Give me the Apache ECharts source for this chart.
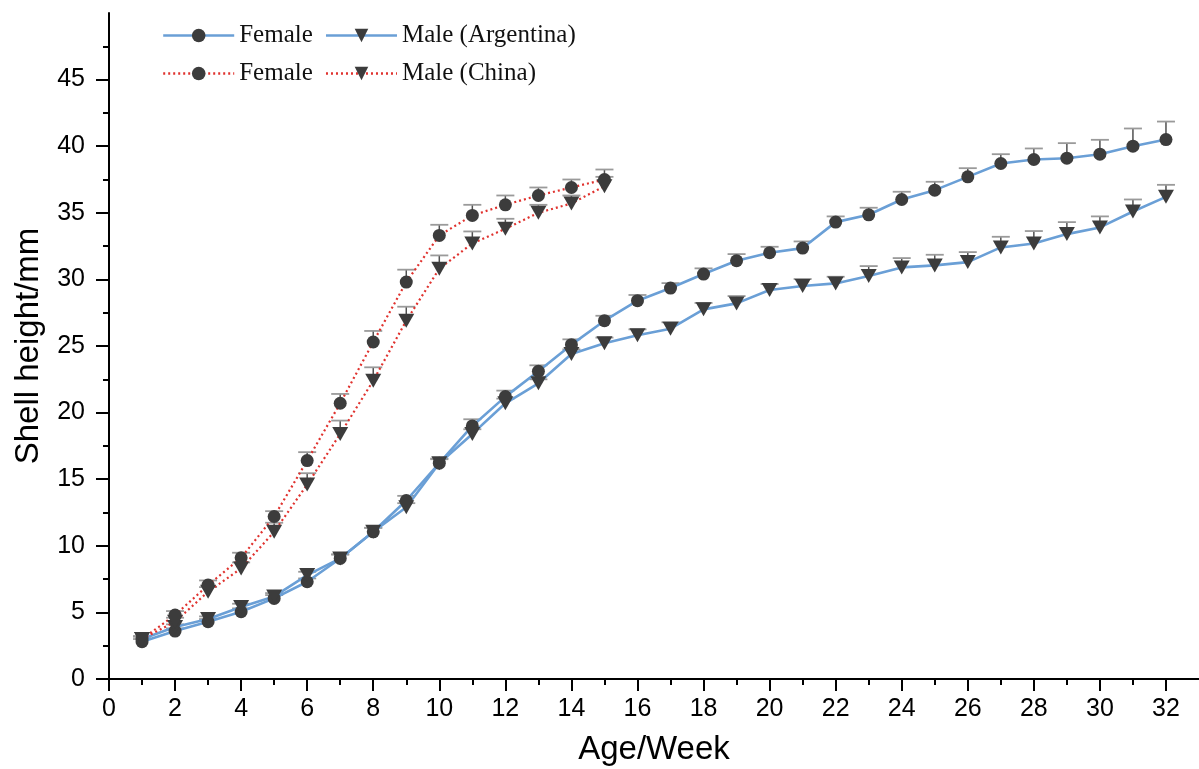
<!DOCTYPE html>
<html>
<head>
<meta charset="utf-8">
<script src="https://cdn.jsdelivr.net/npm/echarts@6/dist/echarts.min.js"></script>
<style>html,body{margin:0;padding:0;background:#fff}#c{width:1199px;height:769px}</style>
</head>
<body>
<div id="c"></div>
<script>
// ---- data ----
const weeksArg = [1,2,3,4,5,6,7,8,9,10,11,12,13,14,15,16,17,18,19,20,21,22,23,24,25,26,27,28,29,30,31,32];
const femaleArg = [2.8,3.6,4.3,5.05,6.05,7.3,9.05,11.05,13.4,16.2,19.0,21.2,23.1,25.1,26.9,28.4,29.35,30.4,31.4,32.0,32.35,34.3,34.85,36.0,36.7,37.7,38.7,39.0,39.1,39.4,40.0,40.5];
const femaleArgErr = [0.2,0.2,0.2,0.25,0.25,0.25,0.3,0.3,0.35,0.35,0.5,0.45,0.45,0.4,0.37,0.43,0.37,0.43,0.5,0.45,0.5,0.43,0.53,0.58,0.63,0.65,0.7,0.83,1.13,1.08,1.33,1.35];
const maleArg = [3.0,3.9,4.5,5.4,6.2,7.8,9.05,11.05,12.9,16.2,18.4,20.7,22.2,24.4,25.2,25.8,26.3,27.75,28.2,29.2,29.5,29.7,30.25,30.9,31.05,31.3,32.4,32.7,33.4,33.9,35.1,36.2];
const maleArgErr = [0.2,0.2,0.2,0.25,0.25,0.25,0.3,0.3,0.3,0.3,0.35,0.35,0.3,0.35,0.43,0.45,0.48,0.48,0.55,0.45,0.53,0.5,0.75,0.7,0.8,0.75,0.8,0.93,0.9,0.83,0.9,0.9];
const weeksChina = [1,2,3,4,5,6,7,8,9,10,11,12,13,14,15];
const femaleChina = [3.0,4.8,7.05,9.1,12.2,16.4,20.7,25.3,29.8,33.3,34.8,35.6,36.3,36.9,37.5];
const femaleChinaErr = [0.2,0.3,0.35,0.38,0.4,0.63,0.7,0.83,0.93,0.8,0.8,0.7,0.6,0.6,0.75];
const maleChina = [3.0,4.3,6.55,8.3,11.05,14.6,18.4,22.4,26.9,30.8,32.7,33.8,35.0,35.7,37.0];
const maleChinaErr = [0.2,0.3,0.35,0.45,0.68,0.85,1.0,1.0,1.05,1.0,0.9,0.75,0.6,0.6,0.7];
const xTickValues = [0,2,4,6,8,10,12,14,16,18,20,22,24,26,28,30,32];
const yTickValues = [0,5,10,15,20,25,30,35,40,45];
const seriesNames = ['Female (Argentina)','Male (Argentina)','Female (China)','Male (China)'];

const pairs = (xs, ys) => xs.map((x, i) => [x, ys[i]]);
const triples = (xs, ys, es) => xs.map((x, i) => [x, ys[i], es[i]]);

const BLUE = '#6a9fd6';
const RED = '#e0322e';
const MARK = '#3c3c3c';
const TRI = 'path://M0,0L2,0L1,1.73Z';

function errSeries(name, data) {
  return {
    type: 'custom', name: name, z: 1, silent: true,
    data: data,
    encode: { x: 0, y: 1 },
    renderItem: function (params, api) {
      const x = api.value(0), y = api.value(1), e = api.value(2);
      const p0 = api.coord([x, y]);
      const p1 = api.coord([x, y + e]);
      return {
        type: 'group',
        children: [
          { type: 'line', shape: { x1: p0[0], y1: p0[1], x2: p1[0], y2: p1[1] }, style: { stroke: '#505050', lineWidth: 1.5 } },
          { type: 'line', shape: { x1: p1[0] - 9, y1: p1[1], x2: p1[0] + 9, y2: p1[1] }, style: { stroke: '#9a9a9a', lineWidth: 1.8 } }
        ]
      };
    }
  };
}

function lineSeries(name, data, color, dotted, symbol, size) {
  return {
    type: 'line', name: name, z: 3,
    data: data,
    symbol: symbol, symbolSize: size,
    showAllSymbol: true,
    lineStyle: { color: color, width: dotted ? 2.2 : 2.6, type: dotted ? [2, 3] : 'solid' },
    itemStyle: { color: MARK, borderWidth: 0 },
    emphasis: { disabled: true },
    animation: false
  };
}

const legendCommon = {
  orient: 'horizontal', left: 162, padding: 0,
  itemWidth: 71, itemHeight: 17, itemGap: 12,
  lineStyle: { width: 2.4 },
  textStyle: { fontFamily: 'Liberation Serif', fontSize: 25, color: '#111' },
  selectedMode: false,
  formatter: function (n) { return n.indexOf('Female') === 0 ? 'Female' : n; }
};

const chart = echarts.init(document.getElementById('c'), null, { renderer: 'canvas' });
chart.setOption({
  animation: false,
  backgroundColor: '#fff',
  grid: { left: 109, right: 0, top: 13, bottom: 90, containLabel: false, outerBoundsMode: 'none' },
  legend: [
    Object.assign({}, legendCommon, { top: 23, data: [seriesNames[0], seriesNames[1]] }),
    Object.assign({}, legendCommon, { top: 61, data: [seriesNames[2], seriesNames[3]] })
  ],
  xAxis: {
    type: 'value', min: 0, max: 33, interval: 2,
    name: 'Age/Week', nameLocation: 'middle', nameGap: 54,
    nameTextStyle: { fontFamily: 'Liberation Sans', fontSize: 33, color: '#000' },
    axisLine: { show: true, onZero: false, lineStyle: { color: '#000', width: 2 } },
    axisTick: { show: true, inside: false, length: 12, lineStyle: { color: '#000', width: 2 }, customValues: xTickValues },
    minorTick: { show: true, splitNumber: 2, length: 6, lineStyle: { color: '#000', width: 2 } },
    axisLabel: { fontFamily: 'Liberation Sans', fontSize: 25, color: '#000', margin: 18, customValues: xTickValues },
    splitLine: { show: false }, minorSplitLine: { show: false }
  },
  yAxis: {
    type: 'value', min: 0, max: 50, interval: 5,
    name: 'Shell height/mm', nameLocation: 'middle', nameGap: 64,
    nameTextStyle: { fontFamily: 'Liberation Sans', fontSize: 33, color: '#000' },
    axisLine: { show: true, onZero: false, lineStyle: { color: '#000', width: 2 } },
    axisTick: { show: true, inside: false, length: 13, lineStyle: { color: '#000', width: 2 }, customValues: yTickValues },
    minorTick: { show: true, splitNumber: 2, length: 6, lineStyle: { color: '#000', width: 2 } },
    axisLabel: { fontFamily: 'Liberation Sans', fontSize: 25, color: '#000', margin: 24, customValues: yTickValues },
    splitLine: { show: false }, minorSplitLine: { show: false }
  },
  series: [
    errSeries('errFA', triples(weeksArg, femaleArg, femaleArgErr)),
    errSeries('errMA', triples(weeksArg, maleArg, maleArgErr)),
    errSeries('errFC', triples(weeksChina, femaleChina, femaleChinaErr)),
    errSeries('errMC', triples(weeksChina, maleChina, maleChinaErr)),
    lineSeries(seriesNames[0], pairs(weeksArg, femaleArg), BLUE, false, 'circle', 13),
    lineSeries(seriesNames[1], pairs(weeksArg, maleArg), BLUE, false, TRI, [16, 14]),
    lineSeries(seriesNames[2], pairs(weeksChina, femaleChina), RED, true, 'circle', 13),
    lineSeries(seriesNames[3], pairs(weeksChina, maleChina), RED, true, TRI, [16, 14])
  ]
});
</script>
</body>
</html>
